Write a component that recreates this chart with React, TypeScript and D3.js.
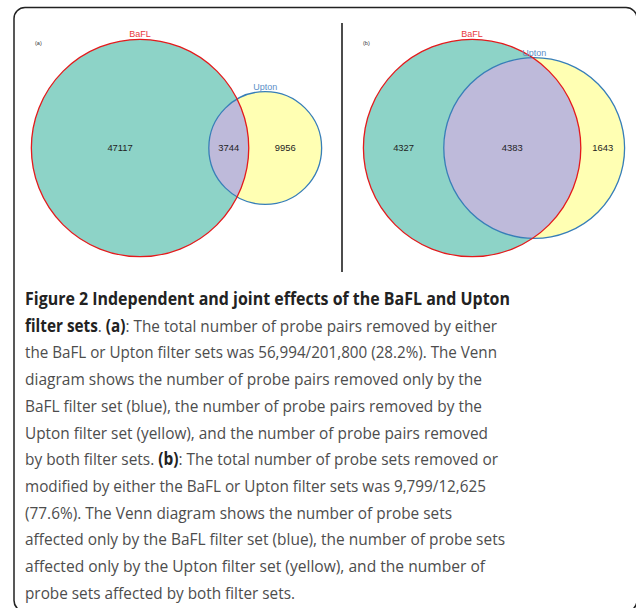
import React from 'react';
import * as d3 from 'd3';

// values
const setNames = ['BaFL', 'Upton'];
const panelLabels = ['(a)', '(b)'];
const onlyBaFL = [47117, 4327];
const bothSets = [3744, 4383];
const onlyUpton = [9956, 1643];

const captionLines = [
  [{ t: 'Figure 2 Independent and joint effects of the BaFL and Upton', b: true }],
  [{ t: 'filter sets', b: true }, { t: '. ' }, { t: '(a)', b: true }, { t: ': The total number of probe pairs removed by either' }],
  [{ t: 'the BaFL or Upton filter sets was 56,994/201,800 (28.2%). The Venn' }],
  [{ t: 'diagram shows the number of probe pairs removed only by the' }],
  [{ t: 'BaFL filter set (blue), the number of probe pairs removed by the' }],
  [{ t: 'Upton filter set (yellow), and the number of probe pairs removed' }],
  [{ t: 'by both filter sets. ' }, { t: '(b)', b: true }, { t: ': The total number of probe sets removed or' }],
  [{ t: 'modified by either the BaFL or Upton filter sets was 9,799/12,625' }],
  [{ t: '(77.6%). The Venn diagram shows the number of probe sets' }],
  [{ t: 'affected only by the BaFL filter set (blue), the number of probe sets' }],
  [{ t: 'affected only by the Upton filter set (yellow), and the number of' }],
  [{ t: 'probe sets affected by both filter sets.' }],
];
const captionWidths = [485, 472, 472, 457, 457, 463, 473, 461, 427, 480, 460, 270];

const W = 636;
const H = 608;
const panelCenters = [176.5, 494];
const cy = 148;
const maxR = 108.7;

function lensArea(r1: number, r2: number, d: number) {
  if (d >= r1 + r2) return 0;
  if (d <= Math.abs(r1 - r2)) return Math.PI * Math.min(r1, r2) ** 2;
  const a = r1 * r1 * Math.acos((d * d + r1 * r1 - r2 * r2) / (2 * d * r1));
  const b = r2 * r2 * Math.acos((d * d + r2 * r2 - r1 * r1) / (2 * d * r2));
  const c = 0.5 * Math.sqrt((-d + r1 + r2) * (d + r1 - r2) * (d - r1 + r2) * (d + r1 + r2));
  return a + b - c;
}

function layout(i: number) {
  const n1 = onlyBaFL[i] + bothSets[i];
  const n2 = onlyUpton[i] + bothSets[i];
  const r = d3.scaleSqrt().domain([0, Math.max(n1, n2)]).range([0, maxR]);
  const r1 = r(n1);
  const r2 = r(n2);
  const target = (bothSets[i] / n1) * Math.PI * r1 * r1;
  let lo = Math.abs(r1 - r2);
  let hi = r1 + r2;
  for (let k = 0; k < 60; k++) {
    const mid = (lo + hi) / 2;
    if (lensArea(r1, r2, mid) > target) lo = mid;
    else hi = mid;
  }
  const d = (lo + hi) / 2;
  const left = -r1;
  const right = Math.max(r1, d + r2);
  const x1 = panelCenters[i] - (left + right) / 2;
  const x2 = x1 + d;
  return { r1, r2, x1, x2 };
}

function Panel({ i }: { i: number }) {
  const { r1, r2, x1, x2 } = layout(i);
  const clipId = `clip-${i}`;
  const labels = [
    { v: onlyBaFL[i], x: (x1 - r1 + x2 - r2) / 2 },
    { v: bothSets[i], x: (x2 - r2 + x1 + r1) / 2 },
    { v: onlyUpton[i], x: (x1 + r1 + x2 + r2) / 2 },
  ];
  return (
    <g fontFamily="'Liberation Sans', Arial, sans-serif">
      <defs>
        <clipPath id={clipId}>
          <circle cx={x1} cy={cy} r={r1} />
        </clipPath>
      </defs>
      <circle cx={x1} cy={cy} r={r1} fill="#8dd3c7" />
      <circle cx={x2} cy={cy} r={r2} fill="#ffffb3" />
      <circle cx={x2} cy={cy} r={r2} fill="#bebada" clipPath={`url(#${clipId})`} />
      <circle cx={x2} cy={cy} r={r2} fill="none" stroke="#377eb8" strokeWidth={1.3} />
      <circle cx={x1} cy={cy} r={r1} fill="none" stroke="#e41a1c" strokeWidth={1.3} />
      <text x={x1} y={cy - r1 - 2} textAnchor="middle" fontSize={9} fill="#e8383c">{setNames[0]}</text>
      <text x={x2} y={cy - r2 - 2} textAnchor="middle" fontSize={9} fill="#5b8fc8">{setNames[1]}</text>
      {labels.map((l, k) => (
        <text key={k} x={l.x} y={cy + 3.3} textAnchor="middle" fontSize={9.4} fill="#222">
          {l.v}
        </text>
      ))}
      <text x={i === 0 ? 35 : 363} y={45} fontSize={5.5} fill="#333">{panelLabels[i]}</text>
    </g>
  );
}

export default function App() {
  return (
    <svg
      width={W}
      height={H}
      style={{ position: 'absolute', left: 0, top: 0, background: '#fff' }}
    >
      <rect x={0} y={0} width={W} height={H} fill="#fff" />
      <rect x={14} y={7.5} width={623} height={604} rx={11} fill="none" stroke="#222" strokeWidth={1.5} />
      <line x1={342} x2={342} y1={23} y2={272} stroke="#111" strokeWidth={1.5} />
      <Panel i={0} />
      <Panel i={1} />
      <g fontFamily="'Open Sans', sans-serif" fontSize={17}>
        {captionLines.map((line, k) => (
          <text
            key={k}
            x={25}
            y={305 + k * 26.7}
            textLength={captionWidths[k]}
            lengthAdjust="spacingAndGlyphs"
            fill="#4d4d4d"
          >
            {line.map((s, j) => (
              <tspan key={j} fontWeight={s.b ? 'bold' : 'normal'} fill={s.b ? '#222' : '#4d4d4d'}>
                {s.t}
              </tspan>
            ))}
          </text>
        ))}
      </g>
    </svg>
  );
}
